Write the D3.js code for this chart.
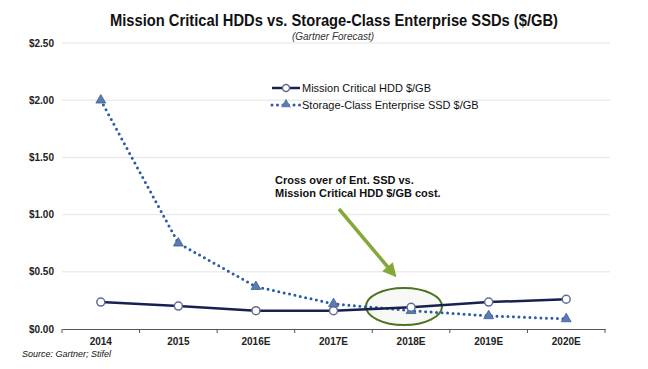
<!DOCTYPE html>
<html>
<head>
<meta charset="utf-8">
<script src="https://cdn.jsdelivr.net/npm/d3@7"></script>
<style>
  body { margin: 0; background: white; }
  text { font-family: "Liberation Sans", Arial, sans-serif; }
</style>
</head>
<body>
<script>
var years = ["2014", "2015", "2016E", "2017E", "2018E", "2019E", "2020E"]
var hddValues = [0.235, 0.20, 0.16, 0.16, 0.19, 0.235, 0.26]
var ssdValues = [2.00, 0.75, 0.37, 0.22, 0.16, 0.115, 0.088]
var yTicks = [0, 0.5, 1.0, 1.5, 2.0, 2.5]

var width = 648
var height = 369
var hddColor = "#17204f"
var hddMarker = "#5d6f95"
var ssdColor = "#2a5ba8"
var ssdMarker = "#5a7cb0"
var arrowColor = "#84a83a"
var ellipseColor = "#4b7420"

var svg = d3.select("body")
    .append("svg")
    .attr("width", width)
    .attr("height", height)

var x = d3.scaleBand().domain(years).range([62, 605])
var y = d3.scaleLinear().domain([0, 2.5]).range([329, 43])

// gridlines
svg.append("g")
    .selectAll("line")
    .data(yTicks.slice(1))
    .enter()
    .append("line")
    .attr("x1", 62).attr("x2", 610)
    .attr("y1", d => y(d)).attr("y2", d => y(d))
    .attr("stroke", "#ececec")
    .attr("stroke-width", 1.5)

// y labels
svg.append("g")
    .selectAll("text")
    .data(yTicks)
    .enter()
    .append("text")
    .attr("x", 54)
    .attr("y", d => y(d) + 3.5)
    .attr("text-anchor", "end")
    .attr("font-size", 10)
    .attr("font-weight", "bold")
    .attr("fill", "#222")
    .text(d => "$" + d.toFixed(2))

// x axis
var xAxis = svg.append("g")
    .attr("transform", "translate(0," + y(0) + ")")
    .call(d3.axisBottom(x).tickSize(0).tickPadding(9))
xAxis.select(".domain").attr("stroke", "#555").attr("stroke-width", 1.2)
xAxis.selectAll("text")
    .attr("font-family", "Liberation Sans, Arial, sans-serif")
    .attr("font-size", 10)
    .attr("font-weight", "bold")
    .attr("fill", "#222")
xAxis.selectAll(".bound")
    .data(d3.range(years.length + 1))
    .enter()
    .append("line")
    .attr("class", "bound")
    .attr("x1", i => 62 + i * x.step())
    .attr("x2", i => 62 + i * x.step())
    .attr("y1", 0).attr("y2", 4)
    .attr("stroke", "#555")

var cx = d => x(d) + x.bandwidth() / 2

// ellipse behind lines
svg.append("ellipse")
    .attr("cx", 404).attr("cy", 306.5)
    .attr("rx", 38).attr("ry", 18.5)
    .attr("fill", "#f4f4f2")
    .attr("fill-opacity", 0.6)
    .attr("stroke", ellipseColor)
    .attr("stroke-width", 2)

var line = d3.line().x((d, i) => cx(years[i])).y(d => y(d))

// SSD dotted line
svg.append("path")
    .attr("d", line(ssdValues))
    .attr("fill", "none")
    .attr("stroke", ssdColor)
    .attr("stroke-width", 3)
    .attr("stroke-linecap", "round")
    .attr("stroke-dasharray", "0 5.5")

// HDD solid line
svg.append("path")
    .attr("d", line(hddValues))
    .attr("fill", "none")
    .attr("stroke", hddColor)
    .attr("stroke-width", 2.5)

var tri = d3.symbol().type(d3.symbolTriangle).size(42)

svg.append("g")
    .selectAll("path")
    .data(ssdValues)
    .enter()
    .append("path")
    .attr("d", tri)
    .attr("transform", (d, i) => "translate(" + cx(years[i]) + "," + y(d) + ")")
    .attr("fill", ssdMarker)
    .attr("stroke", "#3f5f95")
    .attr("stroke-width", 0.8)

svg.append("g")
    .selectAll("circle")
    .data(hddValues)
    .enter()
    .append("circle")
    .attr("cx", (d, i) => cx(years[i]))
    .attr("cy", d => y(d))
    .attr("r", 4)
    .attr("fill", "white")
    .attr("stroke", hddMarker)
    .attr("stroke-width", 1.5)

// title
svg.append("text")
    .attr("x", 334).attr("y", 26)
    .attr("text-anchor", "middle")
    .attr("font-size", 17)
    .attr("font-weight", "bold")
    .attr("fill", "#111")
    .attr("textLength", 448)
    .attr("lengthAdjust", "spacingAndGlyphs")
    .text("Mission Critical HDDs vs. Storage-Class Enterprise SSDs ($/GB)")

svg.append("text")
    .attr("x", 333).attr("y", 40)
    .attr("text-anchor", "middle")
    .attr("font-size", 10)
    .attr("font-style", "italic")
    .attr("fill", "#333")
    .text("(Gartner  Forecast)")

// legend
var lg = svg.append("g")
lg.append("line")
    .attr("x1", 272).attr("x2", 300).attr("y1", 88).attr("y2", 88)
    .attr("stroke", hddColor).attr("stroke-width", 2.5)
lg.append("circle")
    .attr("cx", 286).attr("cy", 88).attr("r", 3.5)
    .attr("fill", "white").attr("stroke", hddMarker).attr("stroke-width", 1.5)
lg.append("text")
    .attr("x", 302).attr("y", 92)
    .attr("font-size", 11)
    .attr("fill", "#111")
    .text("Mission Critical HDD $/GB")
lg.append("line")
    .attr("x1", 272).attr("x2", 300).attr("y1", 105).attr("y2", 105)
    .attr("stroke", ssdColor).attr("stroke-width", 3)
    .attr("stroke-linecap", "round").attr("stroke-dasharray", "0 5.5")
lg.append("path")
    .attr("d", tri)
    .attr("transform", "translate(286,104.5)")
    .attr("fill", ssdMarker)
lg.append("text")
    .attr("x", 302).attr("y", 109)
    .attr("font-size", 11)
    .attr("fill", "#111")
    .text("Storage-Class Enterprise SSD $/GB")

// annotation
var ann = svg.append("text")
    .attr("x", 275)
    .attr("font-size", 11)
    .attr("font-weight", "bold")
    .attr("fill", "#111")
ann.append("tspan").attr("x", 275).attr("y", 184).text("Cross  over of  Ent. SSD  vs.")
ann.append("tspan").attr("x", 275).attr("y", 197).text("Mission Critical HDD $/GB cost.")

svg.append("defs").append("marker")
    .attr("id", "arrowhead")
    .attr("viewBox", "0 -5 10 10")
    .attr("refX", 5).attr("refY", 0)
    .attr("markerWidth", 4).attr("markerHeight", 4)
    .attr("orient", "auto")
    .append("path")
    .attr("d", "M0,-5L10,0L0,5Z")
    .attr("fill", arrowColor)

svg.append("line")
    .attr("x1", 339).attr("y1", 209)
    .attr("x2", 392).attr("y2", 272)
    .attr("stroke", arrowColor)
    .attr("stroke-width", 3.5)
    .attr("marker-end", "url(#arrowhead)")

// source
svg.append("text")
    .attr("x", 22).attr("y", 357)
    .attr("font-size", 9)
    .attr("font-style", "italic")
    .attr("fill", "#111")
    .text("Source: Gartner; Stifel")
</script>
</body>
</html>
